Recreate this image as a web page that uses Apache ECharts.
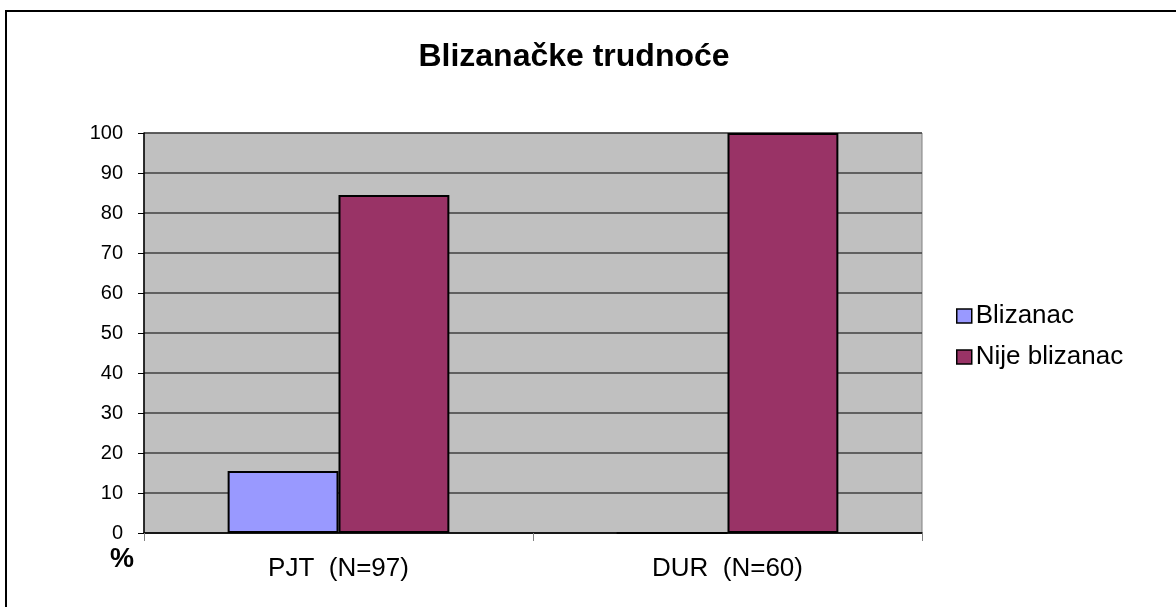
<!DOCTYPE html>
<html>
<head>
<meta charset="utf-8">
<script src="https://cdn.jsdelivr.net/npm/echarts@6/dist/echarts.min.js"></script>
<style>
  html, body { margin: 0; padding: 0; background: #fff; }
  #main { width: 1176px; height: 607px; }
</style>
</head>
<body>
<div id="main"></div>
<script>
const categories = ['PJT  (N=97)', 'DUR  (N=60)'];
const blizanac = [15.5, 0];
const nijeBlizanac = [84.5, 100];
const yTicks = [0, 10, 20, 30, 40, 50, 60, 70, 80, 90, 100];

const chart = echarts.init(document.getElementById('main'));

const option = {
  backgroundColor: '#fff',
  animation: false,
  title: {
    text: 'Blizanačke trudnoće',
    left: 569,
    top: 36,
    textAlign: 'center',
    textStyle: { fontFamily: 'Liberation Sans', fontSize: 32, fontWeight: 'bold', color: '#000' }
  },
  legend: {
    orient: 'vertical',
    left: 951,
    top: 298,
    itemWidth: 15,
    itemHeight: 14,
    itemGap: 15,
    icon: 'rect',
    textStyle: { fontFamily: 'Liberation Sans', fontSize: 26, color: '#000', padding: [0, 0, 0, -1] },
    data: [
      { name: 'Blizanac', itemStyle: { borderColor: '#000', borderWidth: 1.5 } },
      { name: 'Nije blizanac', itemStyle: { borderColor: '#000', borderWidth: 1.5 } }
    ]
  },
  grid: {
    left: 144, top: 133, right: 254, bottom: 74,
    show: true,
    backgroundColor: '#c0c0c0',
    borderColor: '#808080',
    borderWidth: 1
  },
  xAxis: {
    type: 'category',
    data: categories,
    axisLine: { lineStyle: { color: '#000', width: 1.5 } },
    axisTick: { show: true, length: 8, lineStyle: { color: '#808080' } },
    axisLabel: { fontFamily: 'Liberation Sans', fontSize: 26, color: '#000', margin: 23 }
  },
  yAxis: {
    type: 'value',
    min: yTicks[0],
    max: yTicks[yTicks.length - 1],
    interval: 10,
    axisLine: { show: true, lineStyle: { color: '#000', width: 1.5 } },
    axisTick: { show: true, length: 6, lineStyle: { color: '#000' } },
    axisLabel: { fontFamily: 'Liberation Sans', fontSize: 20, color: '#000', margin: 21 },
    splitLine: { lineStyle: { color: '#404040', width: 1.5 } }
  },
  series: [
    {
      name: 'Blizanac',
      type: 'bar',
      data: blizanac,
      barGap: '0%',
      barCategoryGap: '43%',
      itemStyle: { color: '#9999ff', borderColor: '#000', borderWidth: 2 }
    },
    {
      name: 'Nije blizanac',
      type: 'bar',
      data: nijeBlizanac,
      itemStyle: { color: '#993366', borderColor: '#000', borderWidth: 2 }
    }
  ],
  graphic: [
    { type: 'line', shape: { x1: 5, y1: 11, x2: 1176, y2: 11 }, style: { stroke: '#000', lineWidth: 2 } },
    { type: 'line', shape: { x1: 6, y1: 10, x2: 6, y2: 607 }, style: { stroke: '#000', lineWidth: 2 } },
    { type: 'text', left: 110, top: 546, style: { text: '%', fontFamily: 'Liberation Sans', fontSize: 27, fontWeight: 'bold', fill: '#000' } }
  ]
};

chart.setOption(option);
</script>
</body>
</html>
